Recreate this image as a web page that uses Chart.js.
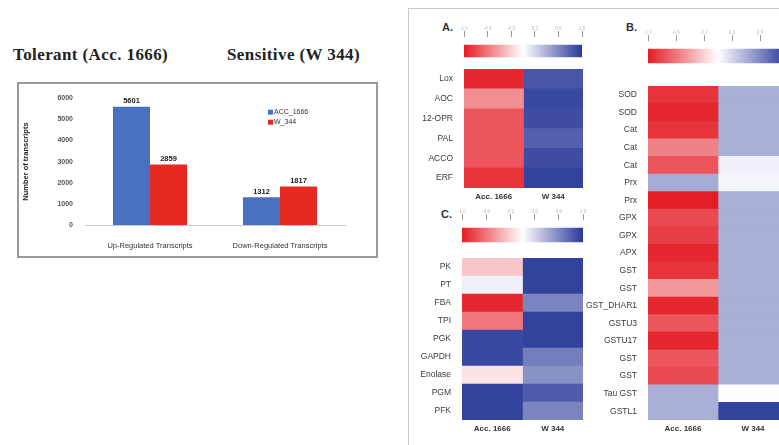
<!DOCTYPE html>
<html>
<head>
<meta charset="utf-8">
<script src="https://cdn.jsdelivr.net/npm/chart.js@4.4.0/dist/chart.umd.min.js"></script>
<style>
html, body { margin: 0; padding: 0; background: #fff; width: 779px; height: 445px; overflow: hidden; position: relative; }
canvas, .abs { position: absolute; }
.title { font-family: 'Liberation Serif', 'Times New Roman', serif; font-weight: bold; font-size: 17px; letter-spacing: 0.4px; color: #222; top: 45px; white-space: nowrap; }
.box { left: 17px; top: 82px; width: 357px; height: 172px; border: 2px solid #9a9a9a; }
.panel { left: 408px; top: 8px; width: 400px; height: 460px; border-top: 1px solid #c6c8d2; border-left: 1px solid #c6c8d2; }
.letter { font-family: 'Liberation Sans', Arial, sans-serif; font-weight: bold; font-size: 11px; color: #333; }
</style>
</head>
<body>
<div class="abs title" style="left:13px">Tolerant (Acc. 1666)</div>
<div class="abs title" style="left:227px">Sensitive (W 344)</div>
<div class="abs box"></div>
<canvas id="bars" width="360" height="175" style="left:17px;top:82px"></canvas>

<div class="abs panel"></div>
<div class="abs letter" style="left:442px;top:21px">A.</div>
<div class="abs letter" style="left:626px;top:21px">B.</div>
<div class="abs letter" style="left:441px;top:208px">C.</div>

<canvas id="cbarA" width="130" height="42" style="left:458px;top:23px"></canvas>
<canvas id="cbarB" width="152" height="44" style="left:642px;top:27px"></canvas>
<canvas id="cbarC" width="133" height="44" style="left:456px;top:206px"></canvas>

<canvas id="heatA" width="177" height="143" style="left:406px;top:61px"></canvas>
<canvas id="heatB" width="202" height="362" style="left:586px;top:78px"></canvas>
<canvas id="heatC" width="179" height="190" style="left:404px;top:250px"></canvas>

<script>
// bar chart data
const categories = ['Up-Regulated Transcripts', 'Down-Regulated Transcripts']
const accCounts = [5601, 1312]
const wCounts = [2859, 1817]
const seriesNames = ['ACC_1666', 'W_344']

// heatmap data (relative expression, -1 = red, +1 = blue)
const heatCols = ['Acc. 1666', 'W 344']
const cbarTicks = [-1, -0.6, -0.2, 0.2, 0.6, 1]

const rowsA = ['Lox', 'AOC', '12-OPR', 'PAL', 'ACCO', 'ERF']
const accA = [-0.95, -0.5, -0.75, -0.75, -0.75, -0.9]
const wA = [0.85, 0.92, 0.9, 0.8, 0.9, 0.95]

const rowsB = ['SOD', 'SOD', 'Cat', 'Cat', 'Cat', 'Prx', 'Prx', 'GPX', 'GPX', 'APX', 'GST', 'GST',
    'GST_DHAR1', 'GSTU3', 'GSTU17', 'GST', 'GST', 'Tau GST', 'GSTL1']
const accB = [-0.9, -0.95, -0.9, -0.55, -0.75, 0.42, -1, -0.8, -0.85, -0.95, -0.9, -0.45,
    -0.95, -0.75, -0.95, -0.75, -0.8, 0.4, 0.4]
const wB = [0.4, 0.4, 0.4, 0.4, 0.07, 0.05, 0.4, 0.4, 0.4, 0.4, 0.4, 0.4,
    0.4, 0.4, 0.4, 0.4, 0.4, 0.01, 0.95]

const rowsC = ['PK', 'PT', 'FBA', 'TPI', 'PGK', 'GAPDH', 'Enolase', 'PGM', 'PFK']
const accC = [-0.25, 0.08, -0.95, -0.6, 0.92, 0.92, -0.12, 0.95, 0.95]
const wC = [0.95, 0.95, 0.62, 0.95, 0.95, 0.65, 0.55, 0.82, 0.62]

Chart.defaults.font.family = "'Liberation Sans', Arial, sans-serif"
Chart.defaults.animation = false
Chart.defaults.responsive = false
Chart.defaults.plugins.legend.display = false
Chart.defaults.plugins.tooltip.enabled = false

const RED = [228, 28, 36]
const BLUE = [40, 56, 152]

function heat(v) {
    const t = Math.min(1, Math.abs(v))
    const end = v < 0 ? RED : BLUE
    const c = end.map(e => Math.round(255 + (e - 255) * t))
    return `rgb(${c[0]},${c[1]},${c[2]})`
}

// value labels + legend inside the plot
const barExtras = {
    id: 'barExtras',
    afterDatasetsDraw(chart) {
        const { ctx, chartArea } = chart
        ctx.save()
        ctx.font = "bold 7.5px 'Liberation Sans', Arial"
        ctx.fillStyle = '#222'
        ctx.textAlign = 'center'
        ctx.textBaseline = 'bottom'
        chart.data.datasets.forEach((ds, i) => {
            chart.getDatasetMeta(i).data.forEach((bar, j) => {
                ctx.fillText(ds.data[j], bar.x, bar.y - 2)
            })
        })
        ctx.textAlign = 'left'
        ctx.textBaseline = 'middle'
        ctx.font = "7px 'Liberation Sans', Arial"
        chart.data.datasets.forEach((ds, i) => {
            const x = chartArea.left + 183
            const y = chartArea.top + 14 + i * 10
            ctx.fillStyle = ds.backgroundColor
            ctx.fillRect(x, y - 2.5, 5, 5)
            ctx.fillStyle = '#333'
            ctx.fillText(ds.label, x + 6, y)
        })
        ctx.restore()
    }
}

new Chart(document.getElementById('bars'), {
    type: 'bar',
    data: {
        labels: categories,
        datasets: [
            { label: seriesNames[0], data: accCounts, backgroundColor: '#4a70c2' },
            { label: seriesNames[1], data: wCounts, backgroundColor: '#e62a22' }
        ]
    },
    options: {
        layout: { padding: { left: 0, right: 32, top: 16, bottom: 0 } },
        datasets: { bar: { categoryPercentage: 0.57, barPercentage: 1 } },
        scales: {
            x: {
                grid: { display: false },
                border: { display: true, color: '#c8c8c8', dash: [2, 2] },
                ticks: { font: { size: 7.5 }, color: '#333', padding: 8, maxRotation: 0 },
                afterFit: s => { s.height = 32 }
            },
            y: {
                min: 0, max: 6000,
                grid: { display: false, drawTicks: false },
                border: { display: false },
                ticks: { stepSize: 1000, callback: v => String(v), font: { size: 7, weight: 'bold' }, color: '#555', padding: 12 },
                title: { display: true, text: 'Number of transcripts', font: { size: 7.5, weight: 'bold' }, color: '#222', padding: 4 },
                afterFit: s => { s.width = 68 }
            }
        }
    },
    plugins: [barExtras]
})

function makeColorbar(id, thickness) {
    new Chart(document.getElementById(id), {
        type: 'bar',
        data: {
            labels: ['scale'],
            datasets: [{
                data: [[cbarTicks[0], cbarTicks[cbarTicks.length - 1]]],
                barThickness: thickness,
                borderWidth: 0,
                backgroundColor: c => {
                    const a = c.chart.chartArea
                    if (!a) return '#fff'
                    const g = c.chart.ctx.createLinearGradient(a.left, 0, a.right, 0)
                    for (let i = 0; i <= 20; i++) g.addColorStop(i / 20, heat(-1 + i / 10))
                    return g
                }
            }]
        },
        options: {
            indexAxis: 'y',
            layout: { padding: { left: 6, right: 6 } },
            scales: {
                x: {
                    position: 'top', min: -1, max: 1,
                    afterBuildTicks: s => { s.ticks = cbarTicks.map(v => ({ value: v })) },
                    ticks: { font: { size: 4.5 }, color: '#bbb', padding: 0, maxRotation: 0 },
                    grid: { drawOnChartArea: false, tickLength: 6, color: '#999' },
                    border: { display: false },
                    afterFit: s => { s.height = 14 }
                },
                y: { display: false }
            }
        }
    })
}

function makeHeatmap(id, rows, acc, w, yWidth, xHeight) {
    new Chart(document.getElementById(id), {
        type: 'bar',
        data: {
            labels: rows,
            datasets: [
                { label: heatCols[0], data: rows.map(() => 1), backgroundColor: acc.map(heat) },
                { label: heatCols[1], data: rows.map(() => 1), backgroundColor: w.map(heat) }
            ]
        },
        options: {
            indexAxis: 'y',
            layout: { padding: 0 },
            datasets: { bar: { categoryPercentage: 1, barPercentage: 1, borderWidth: 0 } },
            scales: {
                x: {
                    stacked: true, min: 0, max: 2,
                    afterBuildTicks: s => { s.ticks = [{ value: 0.5 }, { value: 1.5 }] },
                    ticks: { callback: (v, i) => heatCols[i], font: { size: 8, weight: 'bold' }, color: '#333', padding: 4, maxRotation: 0 },
                    grid: { display: false, drawTicks: false },
                    border: { display: false },
                    afterFit: s => { s.height = xHeight }
                },
                y: {
                    stacked: true,
                    grid: { display: false },
                    border: { display: false },
                    ticks: { autoSkip: false, font: { size: 8.5 }, color: '#3a3a3a', padding: 3 },
                    afterFit: s => { s.width = yWidth }
                }
            }
        }
    })
}

makeColorbar('cbarA', 12)
makeColorbar('cbarB', 14)
makeColorbar('cbarC', 14)
makeHeatmap('heatA', rowsA, accA, wA, 58, 16)
makeHeatmap('heatB', rowsB, accB, wB, 62, 20)
makeHeatmap('heatC', rowsC, accC, wC, 58, 20)
</script>
</body>
</html>
